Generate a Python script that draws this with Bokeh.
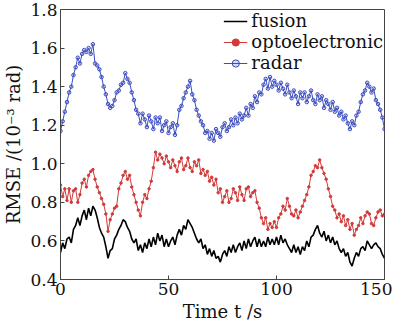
from bokeh.plotting import figure
from bokeh.models import FixedTicker, PrintfTickFormatter, Legend, LegendItem, Range1d
from bokeh.embed import file_html
from bokeh.resources import INLINE

t = list(range(0, 151))

fusion = [
    0.54, 0.59, 0.56, 0.61, 0.62, 0.59, 0.66, 0.68, 0.72, 0.68,
    0.73, 0.76, 0.71, 0.77, 0.73, 0.78, 0.76, 0.72, 0.67, 0.64,
    0.62, 0.57, 0.51, 0.55, 0.56, 0.61, 0.63, 0.66, 0.68, 0.71,
    0.70, 0.67, 0.65, 0.61, 0.59, 0.61, 0.55, 0.58, 0.54, 0.59,
    0.56, 0.61, 0.57, 0.62, 0.58, 0.64, 0.60, 0.63, 0.57, 0.61,
    0.57, 0.60, 0.62, 0.58, 0.63, 0.66, 0.63, 0.68, 0.66, 0.71,
    0.69, 0.67, 0.64, 0.61, 0.59, 0.61, 0.56, 0.58, 0.53, 0.56,
    0.52, 0.55, 0.51, 0.52, 0.49, 0.53, 0.55, 0.52, 0.57, 0.54,
    0.58, 0.54, 0.57, 0.59, 0.55, 0.60, 0.56, 0.61, 0.57, 0.60,
    0.62, 0.57, 0.61, 0.57, 0.60, 0.57, 0.62, 0.58, 0.61, 0.58,
    0.62, 0.58, 0.63, 0.59, 0.61, 0.58, 0.56, 0.54, 0.58, 0.54,
    0.57, 0.53, 0.57, 0.55, 0.60, 0.57, 0.62, 0.63, 0.66, 0.68,
    0.64, 0.62, 0.65, 0.60, 0.63, 0.59, 0.62, 0.58, 0.60, 0.56,
    0.54, 0.56, 0.52, 0.54, 0.49, 0.47, 0.51, 0.54, 0.52, 0.56,
    0.57, 0.55, 0.60, 0.58, 0.56, 0.58, 0.59, 0.57, 0.56, 0.53,
    0.51,
]

optoelectronic = [
    0.89, 0.83, 0.87, 0.81, 0.87, 0.80, 0.86, 0.87, 0.80, 0.84,
    0.90, 0.92, 0.88, 0.94, 0.96, 0.97, 0.92, 0.88, 0.85, 0.82,
    0.79, 0.74, 0.65, 0.71, 0.74, 0.77, 0.78, 0.87, 0.90, 0.94,
    0.96, 0.92, 0.94, 0.88, 0.84, 0.80, 0.76, 0.73, 0.80, 0.84,
    0.82, 0.87, 0.91, 0.98, 1.06, 1.02, 1.05, 1.03, 1.00, 1.04,
    1.01, 0.98, 1.02, 0.99, 0.96, 1.01, 1.03, 0.97, 0.99, 1.03,
    0.98, 0.96, 1.01, 0.99, 1.02, 0.95, 0.97, 0.94, 0.96, 0.91,
    0.93, 0.89, 0.92, 0.85, 0.87, 0.80, 0.83, 0.86, 0.80, 0.82,
    0.87, 0.85, 0.81, 0.88, 0.84, 0.81, 0.87, 0.88, 0.83, 0.85,
    0.86, 0.80, 0.77, 0.72, 0.69, 0.72, 0.66, 0.69, 0.67, 0.70,
    0.67, 0.72, 0.74, 0.78, 0.76, 0.82, 0.78, 0.74, 0.73, 0.76,
    0.72, 0.75, 0.78, 0.81, 0.84, 0.88, 0.94, 0.96, 0.99, 0.98,
    1.02, 0.98, 0.95, 0.92, 0.87, 0.83, 0.78, 0.76, 0.72, 0.74,
    0.70, 0.73, 0.68, 0.71, 0.66, 0.69, 0.63, 0.66, 0.68, 0.72,
    0.69, 0.73, 0.75, 0.74, 0.69, 0.68, 0.72, 0.75, 0.76, 0.73,
    0.74,
]

radar = [
    1.17, 1.22, 1.27, 1.32, 1.37, 1.40, 1.46, 1.50, 1.55, 1.52,
    1.57, 1.59, 1.58, 1.60, 1.57, 1.62, 1.52, 1.51, 1.49, 1.45,
    1.40, 1.36, 1.31, 1.29, 1.30, 1.33, 1.37, 1.38, 1.41, 1.42,
    1.47, 1.44, 1.42, 1.37, 1.33, 1.28, 1.26, 1.21, 1.26, 1.23,
    1.19, 1.25, 1.22, 1.18, 1.24, 1.21, 1.24, 1.17, 1.20, 1.22,
    1.16, 1.19, 1.21, 1.15, 1.20, 1.28, 1.30, 1.34, 1.37, 1.40,
    1.43, 1.36, 1.33, 1.28, 1.25, 1.22, 1.20, 1.16, 1.17, 1.13,
    1.16, 1.12, 1.18, 1.16, 1.14, 1.19, 1.21, 1.17, 1.19, 1.23,
    1.20, 1.24, 1.21, 1.26, 1.23, 1.25, 1.29, 1.25, 1.31, 1.29,
    1.35, 1.32, 1.37, 1.36, 1.41, 1.44, 1.39, 1.45, 1.40, 1.43,
    1.41, 1.38, 1.42, 1.39, 1.36, 1.41, 1.37, 1.34, 1.38, 1.35,
    1.31, 1.37, 1.34, 1.37, 1.32, 1.35, 1.38, 1.33, 1.31, 1.36,
    1.33, 1.35, 1.29, 1.33, 1.31, 1.28, 1.32, 1.27, 1.29, 1.25,
    1.27, 1.23, 1.25, 1.21, 1.18, 1.22, 1.20, 1.25, 1.27, 1.32,
    1.36, 1.38, 1.42, 1.40, 1.37, 1.39, 1.33, 1.31, 1.28, 1.24,
    1.18,
]

x_ticks = [0, 50, 100, 150]
y_ticks = [0.4, 0.6, 0.8, 1.0, 1.2, 1.4, 1.6, 1.8]
series_names = ["fusion", "optoelectronic", "radar"]

SERIF = "DejaVu Serif"
AX = "#444444"

p = figure(width=392, height=325, output_backend="svg", toolbar_location=None,
           x_range=Range1d(0, 150), y_range=Range1d(0.4, 1.8),
           min_border_left=57, min_border_right=8, min_border_top=9, min_border_bottom=46)
p.background_fill_color = "white"
p.border_fill_color = "white"
p.outline_line_color = AX
p.outline_line_width = 1
p.xgrid.visible = False
p.ygrid.visible = False

for ax in (p.xaxis[0], p.yaxis[0]):
    ax.axis_line_color = AX
    ax.major_tick_line_color = AX
    ax.minor_tick_line_color = None
    ax.major_tick_in = 4
    ax.major_tick_out = 0
    ax.major_label_text_font = SERIF
    ax.major_label_text_font_size = "17px"
    ax.major_label_text_color = "#111111"
    ax.axis_label_text_font = SERIF
    ax.axis_label_text_font_size = "18px"
    ax.axis_label_text_font_style = "normal"
    ax.axis_label_text_color = "#111111"
    ax.major_label_standoff = 3
    ax.axis_label_standoff = 3

p.xaxis.ticker = FixedTicker(ticks=x_ticks)
p.yaxis.ticker = FixedTicker(ticks=y_ticks)
p.yaxis.formatter = PrintfTickFormatter(format="%.1f")
p.xaxis.axis_label = "Time t /s"
p.yaxis.axis_label = "RMSE /(10\u207b\u00b3 rad)"

r_f = p.line(t, fusion, line_color="black", line_width=1.6)
r_o = p.line(t, optoelectronic, line_color="#d23a3a", line_width=1)
m_o = p.scatter(t, optoelectronic, marker="circle", size=2.5, line_color="#d23a3a",
                fill_color="#d23a3a")
r_r = p.line(t, radar, line_color="#3b4cc0", line_width=1)
m_r = p.scatter(t, radar, marker="circle", size=3.5, line_color="#3b4cc0",
                fill_color="#3b4cc0", fill_alpha=0.2)

legend = Legend(items=[
    LegendItem(label=series_names[0], renderers=[r_f]),
    LegendItem(label=series_names[1], renderers=[r_o, m_o]),
    LegendItem(label=series_names[2], renderers=[r_r, m_r]),
], location="top_right")
legend.label_text_font = SERIF
legend.label_text_font_size = "18px"
legend.label_text_color = "#111111"
legend.label_standoff = 4
legend.label_height = 18
legend.glyph_height = 18
legend.glyph_width = 24
legend.spacing = 0
legend.padding = 0
legend.margin = 1
legend.border_line_color = None
legend.background_fill_alpha = 0
p.add_layout(legend)

open("out.html", "w").write(file_html(p, INLINE))
